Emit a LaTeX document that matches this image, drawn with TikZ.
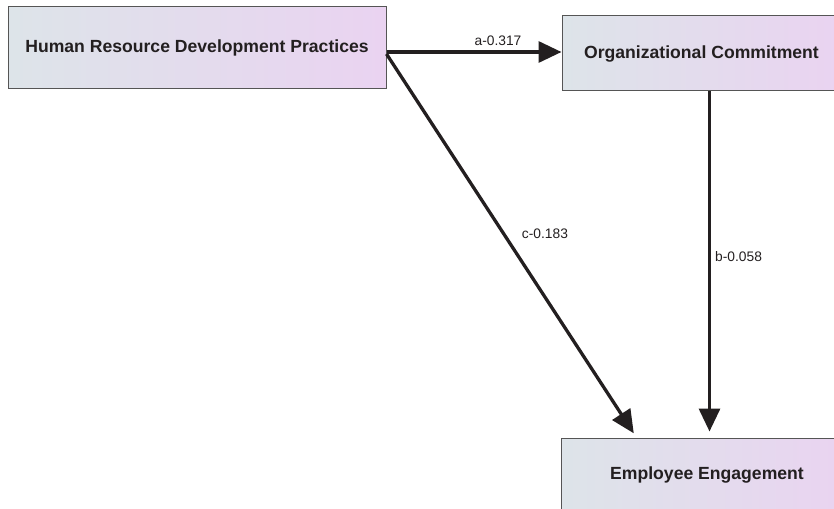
\documentclass[tikz,border=0pt]{standalone}
\usepackage{fontspec}
\setmainfont{Liberation Sans}
\usetikzlibrary{arrows.meta,calc}
\definecolor{boxleft}{HTML}{DDE4E9}
\definecolor{boxright}{HTML}{EAD3F1}
\definecolor{boxline}{HTML}{555555}
\definecolor{arrowcol}{HTML}{231F20}
\tikzset{
  varbox/.style={draw=boxline, line width=1pt, left color=boxleft, right color=boxright,
    inner sep=0pt, font=\fontsize{17.6}{20}\selectfont\bfseries, text=arrowcol},
  patharrow/.style={draw=arrowcol, line width=3.3pt, -{Triangle[length=23pt,width=21pt]}},
  coef/.style={font=\fontsize{13.8}{16}\selectfont, text=arrowcol, inner sep=0pt}
}
\begin{document}
\begin{tikzpicture}[x=1pt,y=-1pt]
\useasboundingbox (0,0) rectangle (834,508);
\clip (0,0) rectangle (834,508);
\node[varbox, minimum width=378pt, minimum height=82pt] (hrd) at (197,48) {Human Resource Development Practices};
\node[varbox, minimum width=279pt, minimum height=75pt] (oc) at (701.5,53.5) {Organizational Commitment};
\node[varbox, minimum width=292pt, minimum height=74pt] (ee) at (707,475) {Employee Engagement};
% a path
\draw[patharrow] ([yshift=-4pt]hrd.east) -- ([yshift=-4pt]hrd.east -| oc.west);
\node[coef] (la) at (498,41) {a-0.317};
% b path
\draw[patharrow, shorten >=6pt] ([xshift=8pt]oc.south) -- ([xshift=8pt]oc.south |- ee.north);
\node[coef, anchor=west] (lb) at (715,257) {b-0.058};
% c path
\draw[patharrow, shorten >=5pt] ([yshift=-6pt]hrd.east) -- ([xshift=76pt]ee.north west);
\node[coef] (lc) at (545,234) {c-0.183};
\end{tikzpicture}
\end{document}
